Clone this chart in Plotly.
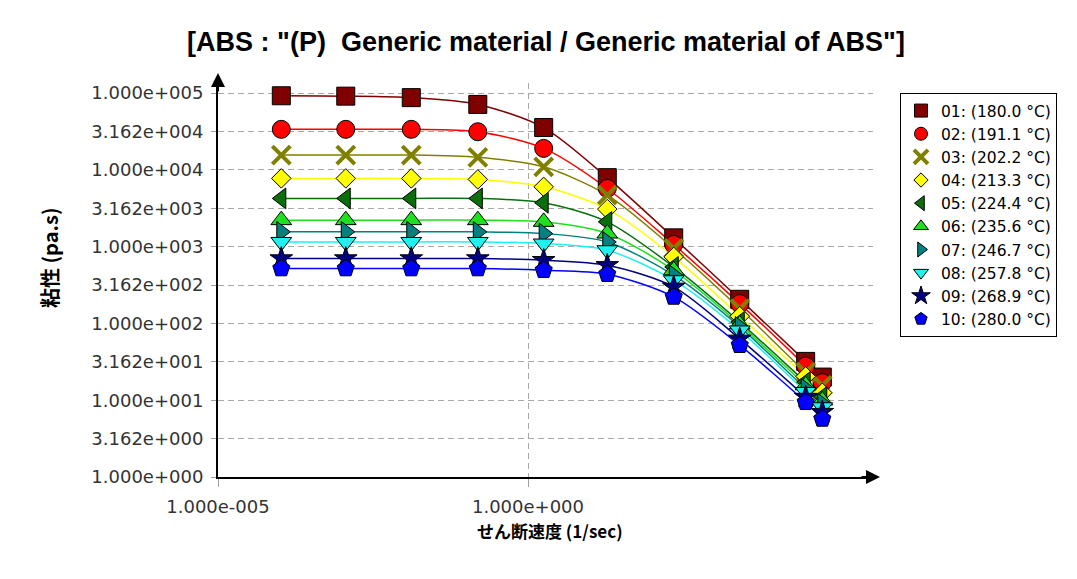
import plotly.graph_objects as go

# ---------------- data ----------------
shear_rate = [1.05e-4, 1.15e-3, 1.31e-2, 0.155, 1.79, 19.0, 224.0, 2600.0, 30100.0, 55800.0]

series_names = [
    "01: (180.0 °C)", "02: (191.1 °C)", "03: (202.2 °C)", "04: (213.3 °C)",
    "05: (224.4 °C)", "06: (235.6 °C)", "07: (246.7 °C)", "08: (257.8 °C)",
    "09: (268.9 °C)", "10: (280.0 °C)",
]

visc_01 = [92000, 91000, 87000, 71000, 35500, 7900, 1300, 206, 32.0, 20.0]
visc_02 = [33650, 33650, 33650, 31300, 19000, 5710, 1064, 181, 27.8, 16.9]
visc_03 = [15560, 15560, 15560, 14520, 10940, 4680, 944, 156, 23.2, 15.6]
visc_04 = [7730, 7730, 7730, 7500, 6000, 3080, 735, 124, 20.4, 12.5]
visc_05 = [4240, 4240, 4240, 4240, 3720, 2100, 543, 104, 17.2, 11.0]
visc_06 = [2210, 2210, 2210, 2210, 2100, 1480, 492, 97, 15.6, 9.9]
visc_07 = [1556, 1556, 1556, 1556, 1480, 1150, 424, 90, 14.1, 9.0]
visc_08 = [1150, 1150, 1150, 1150, 1096, 897, 365, 81, 12.8, 8.1]
visc_09 = [700, 700, 700, 700, 665, 571, 299, 63, 11.0, 7.0]
visc_10 = [518, 518, 518, 518, 492, 437, 221, 52, 9.4, 5.7]

viscosities = [visc_01, visc_02, visc_03, visc_04, visc_05,
               visc_06, visc_07, visc_08, visc_09, visc_10]

y_tick_values = [1, 3.162, 10, 31.62, 100, 316.2, 1000, 3162, 10000, 31620, 100000]
y_tick_labels = ["1.000e+000", "3.162e+000", "1.000e+001", "3.162e+001", "1.000e+002",
                 "3.162e+002", "1.000e+003", "3.162e+003", "1.000e+004", "3.162e+004",
                 "1.000e+005"]
x_tick_values = [1e-5, 1.0]
x_tick_labels = ["1.000e-005", "1.000e+000"]

title_text = '[ABS : "(P)  Generic material / Generic material of ABS"]'
y_title = "粘性 (pa.s)"
x_title = "せん断速度 (1/sec)"

# ---------------- styles ----------------
colors = ["#800000", "#ff0000", "#808000", "#ffff00", "#0a6e0a",
          "#1ee01e", "#008080", "#20f0f0", "#000080", "#0000ff"]
symbols = ["square", "circle", "x-thin", "diamond", "triangle-left",
           "triangle-up", "triangle-right", "triangle-down", "star", "pentagon"]
sizes = [18, 18, 18, 15, 18, 18, 18, 18, 17, 18]
legend_sizes = [13, 13, 14, 11, 13, 13, 13, 13, 14, 13]


def marker_style(sym, sz, col):
    if sym == "x-thin":
        return dict(symbol=sym, size=sz, color=col, line=dict(color=col, width=4))
    return dict(symbol=sym, size=sz, color=col, line=dict(color="#000000", width=1))


fig = go.Figure()

# curves (no legend)
for name, vals, col in zip(series_names, viscosities, colors):
    fig.add_trace(go.Scatter(
        x=shear_rate, y=vals, mode="lines",
        line=dict(color=col, width=1.5, shape="spline", smoothing=0.8),
        showlegend=False, hoverinfo="skip",
    ))

# markers on the curves
for name, vals, col, sym, sz in zip(series_names, viscosities, colors, symbols, sizes):
    fig.add_trace(go.Scatter(
        x=shear_rate, y=vals, mode="markers", name=name,
        marker=marker_style(sym, sz, col), showlegend=False,
    ))

# legend entries (legend-only marker samples)
for i, (name, col, sym, lsz) in enumerate(zip(series_names, colors, symbols, legend_sizes)):
    fig.add_trace(go.Scatter(
        x=[None], y=[None], mode="markers", name=name,
        marker=marker_style(sym, lsz, col), legendgroup="g%d" % i,
        hoverinfo="skip",
    ))

L, R, T, B = 218, 204, 83, 102
W, H = 1077, 579
pw, ph = W - L - R, H - T - B

fig.update_layout(
    width=W, height=H,
    margin=dict(l=L, r=R, t=T, b=B),
    paper_bgcolor="white", plot_bgcolor="white",
    title=dict(text=title_text, x=546 / W, xref="container",
               y=1 - 42 / H, yref="container", xanchor="center", yanchor="middle",
               font=dict(family="Liberation Sans Narrow, Arial Narrow, Liberation Sans",
                         size=27, color="#000000", weight="bold")),
    showlegend=True,
    legend=dict(x=(900 - L) / pw, y=(H - B - 93) / ph, xanchor="left", yanchor="top",
                bordercolor="#000000", borderwidth=1, bgcolor="white",
                font=dict(family="DejaVu Sans", size=15.5, color="#000000"),
                itemsizing="trace", itemwidth=30, tracegroupgap=0, traceorder="grouped"),
)

fig.update_xaxes(
    type="log", range=[-5, -5 + pw / 62.0],
    tickvals=x_tick_values, ticktext=x_tick_labels,
    tickfont=dict(family="DejaVu Sans", size=18, color="#333333"),
    ticks="outside", ticklen=8, tickcolor="#a0a0a0", ticklabelstandoff=4,
    showgrid=True, gridcolor="#a8a8a8", griddash="6px,4px", gridwidth=1,
    showline=True, linecolor="#000000", linewidth=2, zeroline=False,
)
fig.update_yaxes(
    type="log", range=[0, 5 + 10 / 76.8],
    tickvals=y_tick_values, ticktext=y_tick_labels,
    tickfont=dict(family="DejaVu Sans", size=18, color="#333333"),
    ticks="outside", ticklen=5, tickcolor="#a0a0a0", ticklabelstandoff=4,
    showgrid=True, gridcolor="#a8a8a8", griddash="6px,4px", gridwidth=1,
    showline=True, linecolor="#000000", linewidth=2, zeroline=False,
)

# axis arrows
fig.add_annotation(x=0, y=1 + 10 / ph, xref="x domain", yref="y domain", text="",
                   showarrow=True, ax=0, ay=20, arrowhead=2, arrowsize=1.4,
                   arrowwidth=2, arrowcolor="#000000", standoff=0)
fig.add_annotation(x=1 + 7 / pw, y=0, xref="x domain", yref="y domain", text="",
                   showarrow=True, ax=-20, ay=0, arrowhead=2, arrowsize=1.4,
                   arrowwidth=2, arrowcolor="#000000", standoff=0)

# axis titles
fig.add_annotation(x=(49 - L) / pw, y=(H - B - 258) / ph, xref="paper", yref="paper",
                   text="<b>%s</b>" % y_title, showarrow=False, textangle=-90,
                   xanchor="center", yanchor="middle",
                   font=dict(family="Noto Sans CJK JP", size=20, color="#000000"))
fig.add_annotation(x=(550 - L) / pw, y=(H - B - 530) / ph, xref="paper", yref="paper",
                   text="<b>%s</b>" % x_title, showarrow=False,
                   xanchor="center", yanchor="middle",
                   font=dict(family="Noto Sans CJK JP", size=17, color="#000000"))

fig.write_html("out.html")
